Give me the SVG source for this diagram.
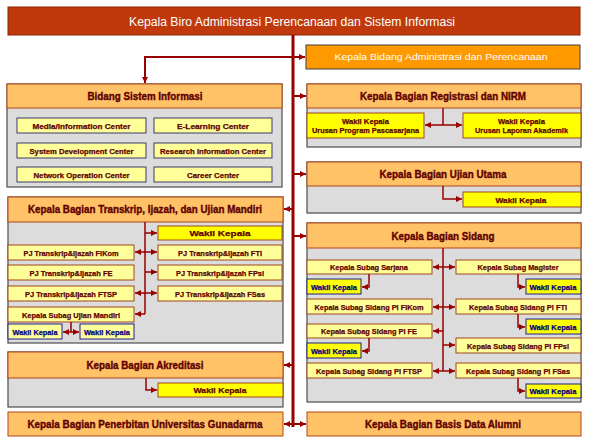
<svg xmlns="http://www.w3.org/2000/svg" width="589" height="443" viewBox="0 0 589 443">
<defs>
<style>
.hdr{fill:#FFC266;stroke:#B5471D;stroke-width:1}
.bd{fill:#DCDCDC;stroke:#4D4D4D;stroke-width:1.2}
.py{fill:#FFFF99;stroke:#A0461E;stroke-width:1}
.pn{fill:#FFFF99;stroke:#3A3A6A;stroke-width:1}
.by{fill:#FFFF00;stroke:#A0461E;stroke-width:1}
.ny{fill:#FFFF00;stroke:#1F1F8F;stroke-width:1}
.npy{fill:#FFFF99;stroke:#1F1F8F;stroke-width:1}
text{font-family:"Liberation Sans",Arial,sans-serif;text-anchor:middle}
.t{font-weight:bold;fill:#600000;font-size:8px;stroke:#600000;stroke-width:0.25}
.h{font-weight:bold;fill:#600000;font-size:10.5px;stroke:#600000;stroke-width:0.35}
.tn{font-weight:bold;fill:#000080;font-size:8px;stroke:#000080;stroke-width:0.25}
.c{stroke:#990000;fill:none;stroke-width:1.5}
.m{stroke:#990000;fill:none;stroke-width:2}
</style>
<marker id="a" viewBox="0 0 6 6" refX="6" refY="3" markerWidth="7" markerHeight="6" markerUnits="userSpaceOnUse" orient="auto-start-reverse">
<path d="M0,0L6,3L0,6z" fill="#990000"/>
</marker>
</defs>
<rect width="589" height="443" fill="#ffffff"/>

<g id="title">
<rect x="8" y="7" width="572" height="28" fill="#C0390D" stroke="#8B2500" stroke-width="1"/>
<text x="292" y="26" font-size="12" fill="#ffffff" textLength="326" lengthAdjust="spacingAndGlyphs">Kepala Biro Administrasi Perencanaan dan Sistem Informasi</text>
</g>

<g id="adm">
<rect x="306" y="45" width="274" height="24" fill="#FF9900" stroke="#404040" stroke-width="1"/>
<text x="441" y="60" font-size="9" fill="#ffffff" textLength="213" lengthAdjust="spacingAndGlyphs">Kepala Bidang Administrasi dan Perencanaan</text>
</g>

<g id="bsi">
<rect class="bd" x="7" y="84" width="275" height="103"/>
<rect class="hdr" x="7" y="84" width="275" height="24"/>
<text class="h" x="145" y="100" textLength="115" lengthAdjust="spacingAndGlyphs">Bidang Sistem Informasi</text>
<rect class="pn" x="17" y="118" width="129" height="15"/>
<text class="t" x="81.5" y="128.5" textLength="98" lengthAdjust="spacingAndGlyphs">Media/Information  Center</text>
<rect class="pn" x="154" y="118" width="118" height="15"/>
<text class="t" x="213" y="128.5" textLength="72" lengthAdjust="spacingAndGlyphs">E-Learning Center</text>
<rect class="pn" x="17" y="143" width="129" height="15"/>
<text class="t" x="81.5" y="153.5" textLength="104" lengthAdjust="spacingAndGlyphs">System Development Center</text>
<rect class="pn" x="154" y="143" width="118" height="15"/>
<text class="t" x="213" y="153.5" textLength="106" lengthAdjust="spacingAndGlyphs">Research Information Center</text>
<rect class="pn" x="17" y="167" width="129" height="15"/>
<text class="t" x="81.5" y="177.5" textLength="96" lengthAdjust="spacingAndGlyphs">Network Operation Center</text>
<rect class="pn" x="154" y="167" width="118" height="15"/>
<text class="t" x="213" y="177.5" textLength="52" lengthAdjust="spacingAndGlyphs">Career Center</text>
</g>

<g id="registrasi">
<rect class="bd" x="307" y="84" width="274" height="63"/>
<rect class="hdr" x="307" y="84" width="274" height="24"/>
<text class="h" x="443" y="100" textLength="166" lengthAdjust="spacingAndGlyphs">Kepala Bagian Registrasi dan NIRM</text>
<rect class="by" x="307" y="113" width="117" height="25"/>
<text class="t" x="365.5" y="123.5" textLength="47" lengthAdjust="spacingAndGlyphs">Wakil Kepala</text>
<text class="t" x="365.5" y="132.5" textLength="107" lengthAdjust="spacingAndGlyphs">Urusan Program Pascasarjana</text>
<rect class="by" x="463" y="113" width="118" height="25"/>
<text class="t" x="521.5" y="123.5" textLength="47" lengthAdjust="spacingAndGlyphs">Wakil Kepala</text>
<text class="t" x="521.5" y="132.5" textLength="93" lengthAdjust="spacingAndGlyphs">Urusan Laporan Akademik</text>
</g>

<g id="ujianutama">
<rect class="bd" x="307" y="162" width="274" height="51"/>
<rect class="hdr" x="307" y="162" width="274" height="24"/>
<text class="h" x="443" y="178" textLength="127" lengthAdjust="spacingAndGlyphs">Kepala Bagian Ujian Utama</text>
<rect class="by" x="463" y="192" width="118" height="15"/>
<text class="t" x="521" y="202.5" textLength="51" lengthAdjust="spacingAndGlyphs">Wakil Kepala</text>
</g>

<g id="transkrip">
<rect class="bd" x="8" y="197" width="275" height="146"/>
<rect class="hdr" x="8" y="197" width="275" height="25"/>
<text class="h" x="145" y="213" textLength="234" lengthAdjust="spacingAndGlyphs">Kepala Bagian Transkrip, Ijazah, dan Ujian Mandiri</text>
<rect class="by" x="158" y="226" width="124" height="14"/>
<text class="t" x="220" y="236" textLength="61" lengthAdjust="spacingAndGlyphs">Wakil Kepala</text>
<rect class="py" x="158" y="245" width="124" height="15"/>
<text class="t" x="220" y="255.5" textLength="84" lengthAdjust="spacingAndGlyphs">PJ Transkrip&amp;Ijazah FTI</text>
<rect class="py" x="158" y="265" width="124" height="15"/>
<text class="t" x="220" y="275.5" textLength="88" lengthAdjust="spacingAndGlyphs">PJ Transkrip&amp;Ijazah FPsi</text>
<rect class="py" x="158" y="286" width="124" height="15"/>
<text class="t" x="220" y="296.5" textLength="90" lengthAdjust="spacingAndGlyphs">PJ Transkrip&amp;Ijazah FSas</text>
<rect class="py" x="8" y="245" width="126" height="15"/>
<text class="t" x="71" y="255.5" textLength="95" lengthAdjust="spacingAndGlyphs">PJ Transkrip&amp;Ijazah FIKom</text>
<rect class="py" x="8" y="265" width="126" height="15"/>
<text class="t" x="71" y="275.5" textLength="83" lengthAdjust="spacingAndGlyphs">PJ Transkrip&amp;Ijazah FE</text>
<rect class="py" x="8" y="286" width="126" height="15"/>
<text class="t" x="71" y="296.5" textLength="92" lengthAdjust="spacingAndGlyphs">PJ Transkrip&amp;Ijazah FTSP</text>
<rect class="py" x="8" y="307" width="126" height="15"/>
<text class="t" x="71" y="317.5" textLength="98" lengthAdjust="spacingAndGlyphs">Kepala Subag Ujian Mandiri</text>
<rect class="npy" x="8" y="324" width="54" height="15"/>
<text class="tn" x="35" y="334.5" textLength="45" lengthAdjust="spacingAndGlyphs">Wakil Kepala</text>
<rect class="npy" x="80" y="324" width="54" height="15"/>
<text class="tn" x="107" y="334.5" textLength="46" lengthAdjust="spacingAndGlyphs">Wakil Kepala</text>
</g>

<g id="sidang">
<rect class="bd" x="307" y="223" width="274" height="179"/>
<rect class="hdr" x="307" y="223" width="274" height="25"/>
<text class="h" x="443" y="239.5" textLength="103" lengthAdjust="spacingAndGlyphs">Kepala Bagian Sidang</text>
<rect class="py" x="307" y="260" width="125" height="14"/>
<text class="t" x="369" y="270" textLength="78" lengthAdjust="spacingAndGlyphs">Kepala Subag Sarjana</text>
<rect class="py" x="456" y="260" width="125" height="14"/>
<text class="t" x="518" y="270" textLength="81" lengthAdjust="spacingAndGlyphs">Kepala Subag Magister</text>
<rect class="ny" x="307" y="279" width="54" height="15"/>
<text class="tn" x="334" y="289.5" textLength="46" lengthAdjust="spacingAndGlyphs">Wakil Kepala</text>
<rect class="ny" x="526" y="279" width="55" height="15"/>
<text class="tn" x="553" y="289.5" textLength="47" lengthAdjust="spacingAndGlyphs">Wakil Kepala</text>
<rect class="py" x="307" y="299" width="125" height="15"/>
<text class="t" x="369" y="309.5" textLength="109" lengthAdjust="spacingAndGlyphs">Kepala Subag Sidang PI FIKom</text>
<rect class="py" x="456" y="299" width="125" height="15"/>
<text class="t" x="518" y="309.5" textLength="98" lengthAdjust="spacingAndGlyphs">Kepala Subag Sidang PI FTI</text>
<rect class="ny" x="526" y="319" width="55" height="15"/>
<text class="tn" x="553" y="329.5" textLength="47" lengthAdjust="spacingAndGlyphs">Wakil Kepala</text>
<rect class="py" x="307" y="324" width="125" height="14"/>
<text class="t" x="369" y="334" textLength="96" lengthAdjust="spacingAndGlyphs">Kepala Subag Sidang PI FE</text>
<rect class="py" x="456" y="338" width="125" height="15"/>
<text class="t" x="518" y="348.5" textLength="102" lengthAdjust="spacingAndGlyphs">Kepala Subag Sidang PI FPsi</text>
<rect class="ny" x="307" y="343" width="54" height="15"/>
<text class="tn" x="334" y="353.5" textLength="46" lengthAdjust="spacingAndGlyphs">Wakil Kepala</text>
<rect class="py" x="307" y="363" width="125" height="15"/>
<text class="t" x="369" y="373.5" textLength="106" lengthAdjust="spacingAndGlyphs">Kepala Subag Sidang PI FTSP</text>
<rect class="py" x="456" y="363" width="125" height="15"/>
<text class="t" x="518" y="373.5" textLength="104" lengthAdjust="spacingAndGlyphs">Kepala Subag Sidang PI FSas</text>
<rect class="ny" x="526" y="384" width="55" height="14"/>
<text class="tn" x="553" y="394" textLength="47" lengthAdjust="spacingAndGlyphs">Wakil Kepala</text>
</g>

<g id="akreditasi">
<rect class="bd" x="8" y="352" width="275" height="55"/>
<rect class="hdr" x="8" y="352" width="275" height="26"/>
<text class="h" x="145" y="369" textLength="117" lengthAdjust="spacingAndGlyphs">Kepala Bagian Akreditasi</text>
<rect class="by" x="158" y="383" width="125" height="14"/>
<text class="t" x="220" y="393" textLength="53" lengthAdjust="spacingAndGlyphs">Wakil Kepala</text>
</g>

<g id="penerbitan">
<rect class="hdr" x="8" y="412" width="275" height="24"/>
<text class="h" x="145" y="428" textLength="235" lengthAdjust="spacingAndGlyphs">Kepala Bagian Penerbitan Universitas Gunadarma</text>
</g>

<g id="alumni">
<rect class="hdr" x="307" y="412" width="274" height="24"/>
<text class="h" x="443" y="428" textLength="156" lengthAdjust="spacingAndGlyphs">Kepala Bagian Basis Data Alumni</text>
</g>

<g id="connectors">
<path d="M293,35V427" stroke="#990000" stroke-width="3" fill="none"/>
<path class="m" d="M293,57H305" marker-end="url(#a)"/>
<path class="m" d="M293,57H145V83" marker-end="url(#a)"/>
<path class="m" d="M293,96H306" marker-end="url(#a)"/>
<path class="m" d="M293,174H306" marker-end="url(#a)"/>
<path class="m" d="M293,236H306" marker-end="url(#a)"/>
<path class="m" d="M293,209H284" marker-end="url(#a)"/>
<path class="m" d="M293,365H284" marker-end="url(#a)"/>
<path class="m" d="M293,424H284" marker-end="url(#a)"/>
<path class="m" d="M293,424H306" marker-end="url(#a)"/>
<path class="c" d="M443,108V125"/>
<path class="c" d="M425,125H462" marker-start="url(#a)" marker-end="url(#a)"/>
<path class="c" d="M443,186V199H462" marker-end="url(#a)"/>
<path class="c" d="M145,222V314"/>
<path class="c" d="M145,233H157" marker-end="url(#a)"/>
<path class="c" d="M135,252H157" marker-start="url(#a)" marker-end="url(#a)"/>
<path class="c" d="M145,272H157" marker-end="url(#a)"/>
<path class="c" d="M135,293H157" marker-start="url(#a)" marker-end="url(#a)"/>
<path class="c" d="M145,314H135" marker-end="url(#a)"/>
<path class="c" d="M71,322V332"/>
<path class="c" d="M63,332H79" marker-start="url(#a)" marker-end="url(#a)"/>
<path class="c" d="M443,248V371"/>
<path class="c" d="M433,267H455" marker-start="url(#a)" marker-end="url(#a)"/>
<path class="c" d="M369,274V287H362" marker-end="url(#a)"/>
<path class="c" d="M518,274V287H525" marker-end="url(#a)"/>
<path class="c" d="M433,307H455" marker-start="url(#a)" marker-end="url(#a)"/>
<path class="c" d="M518,314V327H525" marker-end="url(#a)"/>
<path class="c" d="M443,331H433" marker-end="url(#a)"/>
<path class="c" d="M369,338V351H362" marker-end="url(#a)"/>
<path class="c" d="M443,345H455" marker-end="url(#a)"/>
<path class="c" d="M433,371H455" marker-start="url(#a)" marker-end="url(#a)"/>
<path class="c" d="M518,378V391H525" marker-end="url(#a)"/>
<path class="c" d="M146,378V390H157" marker-end="url(#a)"/>
</g>
</svg>
